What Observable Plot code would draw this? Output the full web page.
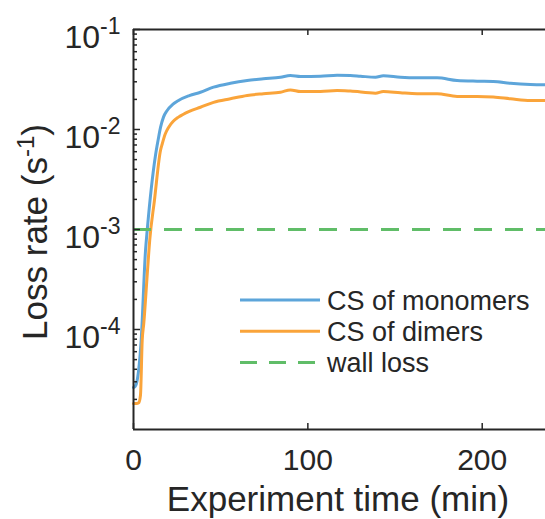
<!DOCTYPE html>
<html>
<head>
<meta charset="utf-8">
<script src="https://cdn.jsdelivr.net/npm/d3@7"></script>
<script src="https://cdn.jsdelivr.net/npm/@observablehq/plot@0.6"></script>
<style>
  body { margin: 0; background: #fff; }
  #chart { width: 545px; height: 519px; }
</style>
</head>
<body>
<div id="chart"></div>
<script>
// ---- data ----
const monomerTime = [0, 1.0, 2.1, 4.4, 6.9, 7.9, 12.6, 14.2, 15.5, 17.2, 19.3, 22.5, 25.8, 32.0, 38.4, 45.9, 55.6, 65.2, 74.5, 84.3, 90.0, 95.8, 107.2, 116.8, 124.4, 130.2, 138.8, 143.3, 153.1, 162.7, 174.1, 185.6, 197.1, 206.4, 216.2, 227.6, 236.2];
const monomerRate = [2.63e-5, 2.7e-5, 3.1e-5, 7.8e-5, 6.2e-4, 1.0e-3, 5.5e-3, 8.0e-3, 0.0105, 0.0133, 0.0155, 0.0178, 0.0195, 0.0218, 0.0236, 0.0265, 0.0290, 0.0309, 0.0321, 0.0333, 0.0347, 0.0339, 0.0341, 0.0349, 0.0347, 0.0341, 0.0333, 0.0344, 0.0333, 0.0329, 0.0329, 0.0309, 0.0304, 0.0302, 0.0290, 0.0282, 0.0280];

const dimerTime = [0, 1.7, 3.0, 4.0, 5.0, 5.9, 7.9, 9.3, 12.0, 15.5, 16.5, 18.2, 20.1, 22.8, 25.8, 32.0, 38.4, 45.9, 55.6, 65.2, 74.5, 84.3, 90.0, 95.8, 107.2, 116.8, 124.4, 138.8, 143.3, 153.1, 162.7, 174.1, 185.6, 197.1, 206.4, 216.2, 227.6, 236.2];
const dimerRate = [1.82e-5, 1.82e-5, 1.85e-5, 2.2e-5, 7.8e-5, 1.15e-4, 3.6e-4, 7.8e-4, 1.95e-3, 6.2e-3, 7.2e-3, 9.0e-3, 0.0105, 0.0121, 0.0133, 0.0152, 0.0167, 0.0187, 0.0203, 0.0219, 0.0228, 0.0236, 0.0249, 0.0240, 0.0240, 0.0245, 0.0242, 0.0231, 0.0240, 0.0233, 0.0228, 0.0228, 0.0214, 0.0214, 0.0211, 0.0203, 0.0195, 0.0195];

const wallLossRate = [1e-3];

const seriesNames = ["CS of monomers", "CS of dimers", "wall loss"];
const seriesColors = ["#5DA5DA", "#FAA43A", "#60BD68"];

const xTicks = [0, 100, 200];
const yTicks = [1e-1, 1e-2, 1e-3, 1e-4];
const yDomain = [1e-5, 1e-1];
const xDomain = [0, 236.3];
const xTitle = "Experiment time (min)";
const yTitle = ["Loss rate (s", "-1", ")"];

// ---- layout ----
const W = 545, H = 519;
const mL = 133, mR = 0, mT = 29, mB = 90;
const plotW = W - mL - mR, plotH = H - mT - mB;
const axisColor = "#262626";
const font = "Liberation Sans, Arial, Helvetica, sans-serif";

const monomers = monomerTime.map((t, i) => ({t, v: monomerRate[i]}));
const dimers = dimerTime.map((t, i) => ({t, v: dimerRate[i]}));

// minor log ticks 2..9 per decade
const yMinor = [];
for (let e = -5; e < -1; e++) for (let m = 2; m <= 9; m++) yMinor.push(m * Math.pow(10, e));

const plot = Plot.plot({
  width: W, height: H,
  marginLeft: mL, marginRight: mR, marginTop: mT, marginBottom: mB,
  style: {fontFamily: font, color: axisColor, background: "#fff", overflow: "visible"},
  x: {domain: xDomain},
  y: {type: "log", domain: yDomain},
  marks: [
    Plot.line(monomers, {x: "t", y: "v", stroke: seriesColors[0], strokeWidth: 3, strokeLinejoin: "round", curve: "monotone-x"}),
    Plot.line(dimers, {x: "t", y: "v", stroke: seriesColors[1], strokeWidth: 3, strokeLinejoin: "round", curve: "monotone-x"}),
    Plot.ruleY(wallLossRate, {stroke: seriesColors[2], strokeWidth: 3, strokeDasharray: "18,13"}),
    // ticks (inward)
    Plot.tickY(yMinor, {y: d => d, stroke: axisColor, strokeWidth: 1.5, insetRight: plotW - 4}),
    Plot.tickY(yTicks, {y: d => d, stroke: axisColor, strokeWidth: 1.5, insetRight: plotW - 7}),
    Plot.tickX(xTicks, {x: d => d, stroke: axisColor, strokeWidth: 1.5, insetTop: plotH - 6}),
    Plot.tickX(xTicks, {x: d => d, stroke: axisColor, strokeWidth: 1.5, insetBottom: plotH - 6}),
    // axis lines / box
    Plot.ruleX([xDomain[0]], {stroke: axisColor, strokeWidth: 2}),
    Plot.ruleY([yDomain[0]], {stroke: axisColor, strokeWidth: 2}),
    Plot.ruleY([yDomain[1]], {stroke: axisColor, strokeWidth: 2}),
    // tick labels
    Plot.axisX({ticks: xTicks, tickSize: 0, tickPadding: 19, fontSize: 30, label: null, tickFormat: d => String(d)}),
    Plot.axisY({ticks: yTicks, tickSize: 0, tickPadding: 13, fontSize: 32, label: null,
      tickFormat: d => "10^" + Math.round(Math.log10(d))})
  ]
});

const svg = d3.select(plot);

// superscript exponents on y tick labels
svg.selectAll('g[aria-label="y-axis tick label"] text').each(function () {
  const s = this.textContent;
  const [b, e] = s.split("^");
  const t = d3.select(this);
  t.text(null);
  t.append("tspan").attr("dy", 8).text(b);
  t.append("tspan").attr("dy", -14).attr("font-size", 23).text(e);
});

// axis titles
svg.append("text")
  .attr("x", 338).attr("y", 511)
  .attr("text-anchor", "middle")
  .attr("font-size", 35).attr("font-family", font).attr("fill", axisColor)
  .text(xTitle);

const yt = svg.append("text")
  .attr("transform", "translate(47,232) rotate(-90)")
  .attr("text-anchor", "middle")
  .attr("font-size", 35).attr("font-family", font).attr("fill", axisColor);
yt.append("tspan").text(yTitle[0]);
yt.append("tspan").attr("font-size", 24).attr("dy", -13).text(yTitle[1]);
yt.append("tspan").attr("dy", 13).text(yTitle[2]);

// legend
const lg = svg.append("g").attr("font-family", font).attr("font-size", 27).attr("fill", axisColor);
seriesNames.forEach((name, i) => {
  const ry = 300 + 31.2 * i;
  lg.append("line")
    .attr("x1", 240).attr("x2", 320).attr("y1", ry).attr("y2", ry)
    .attr("stroke", seriesColors[i]).attr("stroke-width", 3)
    .attr("stroke-dasharray", i === 2 ? "17,12" : null);
  lg.append("text").attr("x", 327).attr("y", ry + 10).attr("text-anchor", "start").text(name);
});

document.getElementById("chart").appendChild(plot);
</script>
</body>
</html>
